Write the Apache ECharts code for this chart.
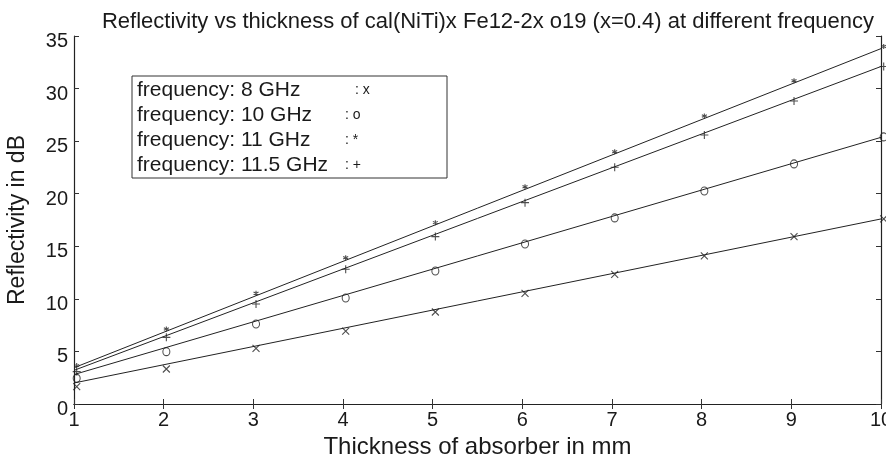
<!DOCTYPE html>
<html>
<head>
<meta charset="utf-8">
<script src="https://cdn.jsdelivr.net/npm/echarts@6/dist/echarts.min.js"></script>
<style>
html,body{margin:0;padding:0;background:#fff;overflow:hidden;}
#c{width:886px;height:459px;}
</style>
</head>
<body>
<div id="c"></div>
<script>
const titleText = 'Reflectivity vs thickness of cal(NiTi)x Fe12-2x o19 (x=0.4) at different frequency';
const xName = 'Thickness of absorber in mm';
const yName = 'Reflectivity in dB';

const seriesNames = ['frequency: 8 GHz', 'frequency: 10 GHz', 'frequency: 11 GHz', 'frequency: 11.5 GHz'];
const markChars = ['x', 'o', '*', '+'];

const thickness = [1.03, 2.03, 3.03, 4.03, 5.03, 6.03, 7.03, 8.03, 9.03, 10.03];
const refl8 = [1.65, 3.33, 5.3, 6.94, 8.75, 10.53, 12.33, 14.08, 15.92, 17.6];
const refl10 = [2.44, 4.98, 7.61, 10.08, 12.65, 15.22, 17.7, 20.26, 22.83, 25.4];
const refl11 = [3.65, 7.13, 10.53, 13.92, 17.25, 20.67, 24.0, 27.39, 30.75, 34.0];
const refl115 = [3.08, 6.34, 9.51, 12.81, 15.92, 19.15, 22.51, 25.58, 28.82, 32.1];

const fitX = [1, 10];
const fit8 = [2.0, 17.6];
const fit10 = [2.8, 25.36];
const fit11 = [3.45, 33.8];
const fit115 = [3.2, 32.1];

const xTicks = [1, 10, 1];   // min, max, interval
const yTicks = [0, 35, 5];

const FONT = "'Liberation Sans', Arial, sans-serif";
const INK = '#1a1a1a';

const symbols = [
  {symbol: 'path://M0,0L10,10M10,0L0,10', size: 7},
  {symbol: 'circle', size: [7, 8]},
  {symbol: 'path://M5,0L5,10M0.67,2.5L9.33,7.5M0.67,7.5L9.33,2.5', size: 5},
  {symbol: 'path://M5,0L5,10M0,5L10,5', size: 8}
];

const markerData = [refl8, refl10, refl11, refl115];
const fitData = [fit8, fit10, fit11, fit115];

const series = [];
markerData.forEach((arr, i) => {
  series.push({
    name: seriesNames[i],
    type: 'scatter',
    clip: false,
    symbol: symbols[i].symbol,
    symbolSize: symbols[i].size,
    itemStyle: {color: 'rgba(0,0,0,0)', borderColor: '#222', borderWidth: 1.1},
    data: thickness.map((x, k) => [x, arr[k]]),
    z: 3
  });
});
fitData.forEach((arr, i) => {
  series.push({
    name: 'fit ' + seriesNames[i],
    type: 'line',
    showSymbol: false,
    symbol: 'none',
    lineStyle: {color: '#222', width: 1},
    data: fitX.map((x, k) => [x, arr[k]]),
    z: 2
  });
});

const baseAxis = {
  axisLine: {show: true, lineStyle: {color: '#222', width: 1.2}},
  axisTick: {show: true, inside: true, length: 5, lineStyle: {color: '#333', width: 1}},
  splitLine: {show: false}
};

const chart = echarts.init(document.getElementById('c'), null, {renderer: 'canvas'});
chart.setOption({
  animation: false,
  backgroundColor: '#fff',
  textStyle: {fontFamily: FONT},
  title: {
    text: titleText,
    left: 483,
    top: 6,
    textAlign: 'center',
    textStyle: {fontFamily: FONT, fontSize: 22, fontWeight: 'normal', color: INK}
  },
  legend: {
    data: seriesNames,
    orient: 'vertical',
    left: 132,
    top: 76,
    icon: 'none',
    itemWidth: 0,
    itemHeight: 25,
    itemGap: 0,
    padding: [2, 0, 0, 0],
    borderColor: '#333',
    borderWidth: 1,
    selectedMode: false,
    formatter: function (name) {
      const idx = seriesNames.indexOf(name);
      const style = name === seriesNames[0] ? 'a8' : 'a';
      return '{' + style + '|' + name + '}{b|: ' + markChars[idx] + '}';
    },
    textStyle: {
      fontFamily: FONT,
      color: INK,
      lineHeight: 25,
      height: 25,
      rich: {
        a: {fontFamily: FONT, fontSize: 21, color: INK, width: 208, height: 25, lineHeight: 25},
        a8: {fontFamily: FONT, fontSize: 21, color: INK, width: 218, height: 25, lineHeight: 25},
        b: {fontFamily: FONT, fontSize: 14, color: INK, width: 92, height: 25, lineHeight: 25}
      }
    }
  },
  grid: {left: 74, right: 5, top: 36, bottom: 55, containLabel: false, outerBoundsMode: 'none'},
  xAxis: [
    Object.assign({}, baseAxis, {
      type: 'value', position: 'bottom',
      min: xTicks[0], max: xTicks[1], interval: xTicks[2],
      name: xName, nameLocation: 'middle', nameGap: 26,
      nameTextStyle: {fontFamily: FONT, fontSize: 24, color: INK},
      axisLabel: {fontFamily: FONT, fontSize: 20, color: INK, margin: 6}
    }),
    Object.assign({}, baseAxis, {
      type: 'value', position: 'top',
      min: xTicks[0], max: xTicks[1], interval: xTicks[2],
      axisLabel: {show: false}
    })
  ],
  yAxis: [
    Object.assign({}, baseAxis, {
      type: 'value', position: 'left',
      min: yTicks[0], max: yTicks[1], interval: yTicks[2],
      name: yName, nameLocation: 'middle', nameGap: 45,
      nameTextStyle: {fontFamily: FONT, fontSize: 23, color: INK},
      axisLabel: {
        fontFamily: FONT, color: INK, margin: 6,
        formatter: function (v) { return '{v|' + v + '}'; },
        rich: {v: {fontFamily: FONT, fontSize: 20, color: INK, padding: [11, 0, 0, 0]}}
      }
    }),
    Object.assign({}, baseAxis, {
      type: 'value', position: 'right',
      min: yTicks[0], max: yTicks[1], interval: yTicks[2],
      axisLabel: {show: false}
    })
  ],
  series: series
});
</script>
</body>
</html>
